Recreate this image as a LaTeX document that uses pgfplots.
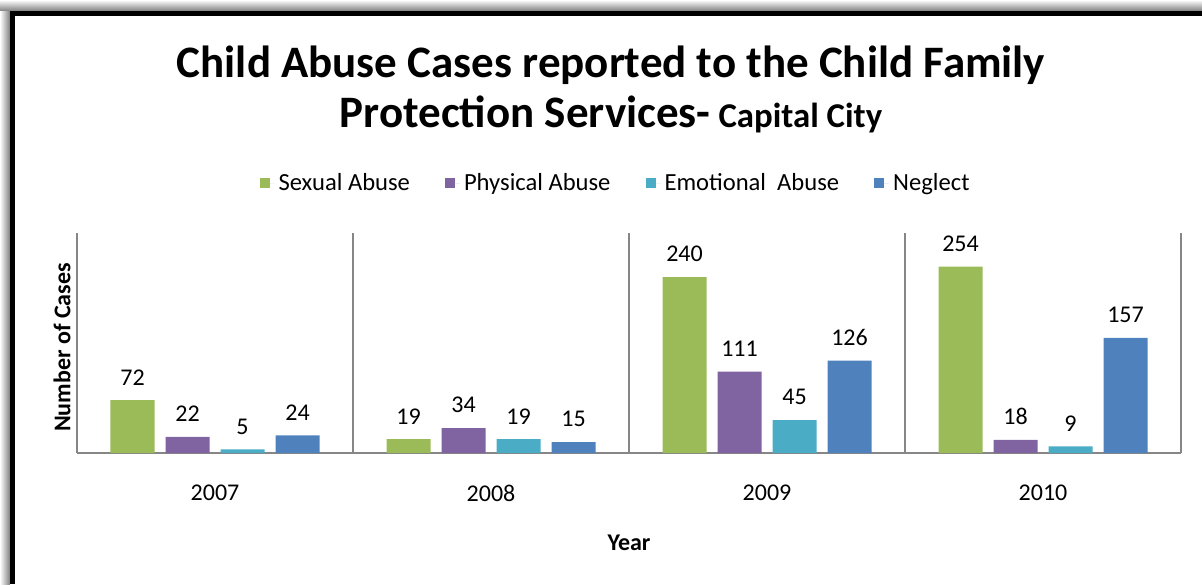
\documentclass[border=0pt]{standalone}
\usepackage{pgfplots}
\pgfplotsset{compat=1.18}
\usepackage{fontspec}
\setmainfont{Carlito}
\definecolor{cgreen}{HTML}{9BBB59}
\definecolor{cpurple}{HTML}{8064A2}
\definecolor{ccyan}{HTML}{4BACC6}
\definecolor{cblue}{HTML}{4F81BD}
\definecolor{axgray}{HTML}{868686}

\begin{document}
\begin{tikzpicture}[x=1pt,y=1pt]
% page area and frame
\useasboundingbox (-38.5,-65.5) rectangle (562.5,226.5);
\shade[left color=white, right color=black!50] (-38.5,-65.5) rectangle (-33.5,226.5);
\shade[top color=white, bottom color=black!50] (-38.5,221) rectangle (562.5,226.5);
\draw[line width=2.5pt] (-32.25,-65.5) -- (-32.25,219.75) -- (562.5,219.75);

%% Title
\node[font=\bfseries\fontsize{22.5}{26}\selectfont, anchor=base] at (267,187.5)
    {Child Abuse Cases reported to the Child Family};
\node[anchor=base] at (267,162.5)
    {\bfseries\fontsize{22.5}{26}\selectfont Protection Services-\fontsize{17.4}{20}\selectfont\ Capital City};

\begin{axis}[
    at={(0,0)}, anchor=south west,
    scale only axis,
    width=552pt, height=110pt,
    ybar=5.5pt, bar width=22pt,
    xmin=-0.5, xmax=3.5, ymin=0, ymax=300,
    enlarge x limits=false,
    xtick={0,1,2,3},
    xticklabels={2007,2008,2009,2010},
    major tick length=0pt,
    minor xtick={0.5,1.5,2.5,3.5},
    minor tick length=0pt,
    xminorgrids,
    minor grid style={axgray, line width=0.9pt},
    ytick=\empty,
    axis x line*=bottom, axis y line*=left,
    axis line style={axgray, line width=0.9pt, -},
    /pgf/number format/assume math mode=true,
    xticklabel style={font=\fontsize{12}{12}\selectfont, anchor=center, yshift=-20pt},
    xlabel={Year},
    xlabel style={font=\bfseries\fontsize{12}{12}\selectfont,
                  at={(axis description cs:0.5,0)}, anchor=center, yshift=-45pt},
    ylabel={Number of Cases},
    ylabel style={font=\bfseries\fontsize{12}{12}\selectfont,
                  at={(axis description cs:-0.0136,0.48)}, anchor=center},
    nodes near coords,
    nodes near coords style={font=\fontsize{12}{12}\selectfont, text=black, yshift=4pt},
    legend columns=4,
    legend style={draw=none, fill=none,
                  at={(axis description cs:0.4887,1.227)}, anchor=center,
                  font=\fontsize{12.3}{12}\selectfont,
                  /tikz/every even column/.append style={column sep=15.5pt}},
    legend image code/.code={\fill[#1] (0pt,-2.5pt) rectangle (5pt,2.5pt);
                             \path (0pt,0pt) -- (7.5pt,0pt);},
]

%% Sexual Abuse
\addplot[fill=cgreen, draw=none] coordinates {(0,72) (1,19) (2,240) (3,254)};
\addlegendentry{Sexual Abuse}

%% Physical Abuse
\addplot[fill=cpurple, draw=none] coordinates {(0,22) (1,34) (2,111) (3,18)};
\addlegendentry{Physical Abuse}

%% Emotional Abuse
\addplot[fill=ccyan, draw=none] coordinates {(0,5) (1,19) (2,45) (3,9)};
\addlegendentry{Emotional~ Abuse}

%% Neglect
\addplot[fill=cblue, draw=none] coordinates {(0,24) (1,15) (2,126) (3,157)};
\addlegendentry{Neglect}

\end{axis}
\end{tikzpicture}
\end{document}
